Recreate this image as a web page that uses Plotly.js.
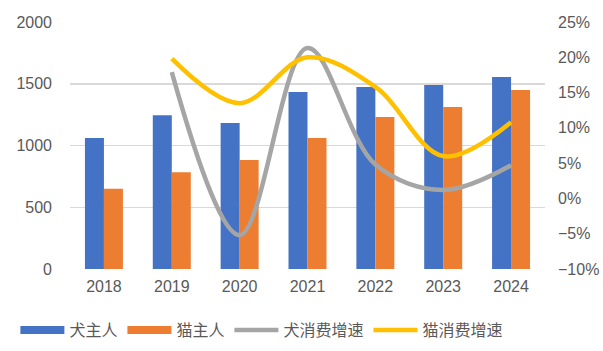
<!DOCTYPE html>
<html>
<head>
<meta charset="utf-8">
<script src="https://cdn.plot.ly/plotly-3.0.1.min.js"></script>
<style>html,body{margin:0;padding:0;background:#fff;}#chart{width:603px;height:351px;}</style>
</head>
<body>
<div id="chart"></div>
<script>
var years = ['2018','2019','2020','2021','2022','2023','2024'];
var dogOwners = [1060, 1245, 1182, 1433, 1474, 1490, 1555];
var catOwners = [650, 783, 883, 1061, 1231, 1312, 1450];
var dogGrowth = [null, 0.179, -0.052, 0.213, 0.048, 0.012, 0.047];
var catGrowth = [null, 0.198, 0.135, 0.200, 0.158, 0.060, 0.108];
var seriesNames = ['犬主人', '猫主人', '犬消费增速', '猫消费增速'];
var colors = ['#4472C4', '#ED7D31', '#A5A5A5', '#FFC000'];

var font = 'Liberation Sans, Arial, sans-serif';
var cjk = 'Noto Sans CJK SC, sans-serif';

var traces = [
  {type:'bar', x:years, y:dogOwners, name:seriesNames[0], marker:{color:colors[0]}, showlegend:false, hoverinfo:'skip'},
  {type:'bar', x:years, y:catOwners, name:seriesNames[1], marker:{color:colors[1]}, showlegend:false, hoverinfo:'skip'},
  {type:'scatter', mode:'lines', x:years, y:dogGrowth, name:seriesNames[2], yaxis:'y2', line:{color:colors[2], width:4.5, shape:'spline', smoothing:1}, showlegend:false, connectgaps:false},
  {type:'scatter', mode:'lines', x:years, y:catGrowth, name:seriesNames[3], yaxis:'y2', line:{color:colors[3], width:4.5, shape:'spline', smoothing:1}, showlegend:false, connectgaps:false}
];
// legend entries
for (var i = 0; i < 4; i++) {
  traces.push({type:'scatter', mode:'lines', x:[null], y:[null], name:seriesNames[i], yaxis: i<2 ? 'y' : 'y2',
    line:{color:colors[i], width: i<2 ? 8 : 4.5}, showlegend:true, hoverinfo:'skip'});
}

var layout = {
  width:603, height:351,
  margin:{l:70, r:58, t:22, b:82, autoexpand:false},
  paper_bgcolor:'#fff', plot_bgcolor:'#fff',
  barmode:'group', bargap:0.44, bargroupgap:0,
  showlegend:true,
  legend:{orientation:'h', x:-0.115, xanchor:'left', y:-0.247, yanchor:'middle',
    font:{family:cjk, size:16, color:'#595959'}, itemwidth:44, tracegroupgap:0, traceorder:'normal'},
  xaxis:{type:'category', tickfont:{family:font, size:16, color:'#595959'}, showgrid:false,
    showline:false, zeroline:false, ticks:'', ticklabelstandoff:6},
  yaxis:{range:[0,2000], dtick:500, tickfont:{family:font, size:16, color:'#595959'},
    showgrid:true, gridcolor:'#D9D9D9', gridwidth:1.5, zeroline:false, showline:false, ticks:'', ticklabelstandoff:17},
  yaxis2:{overlaying:'y', side:'right', range:[-0.1,0.25], dtick:0.05, tickformat:'.0%',
    tickfont:{family:font, size:16, color:'#595959'}, showgrid:false, zeroline:false, showline:false, ticks:'', ticklabelstandoff:12}
};

Plotly.newPlot('chart', traces, layout, {staticPlot:true, displayModeBar:false});
</script>
</body>
</html>
